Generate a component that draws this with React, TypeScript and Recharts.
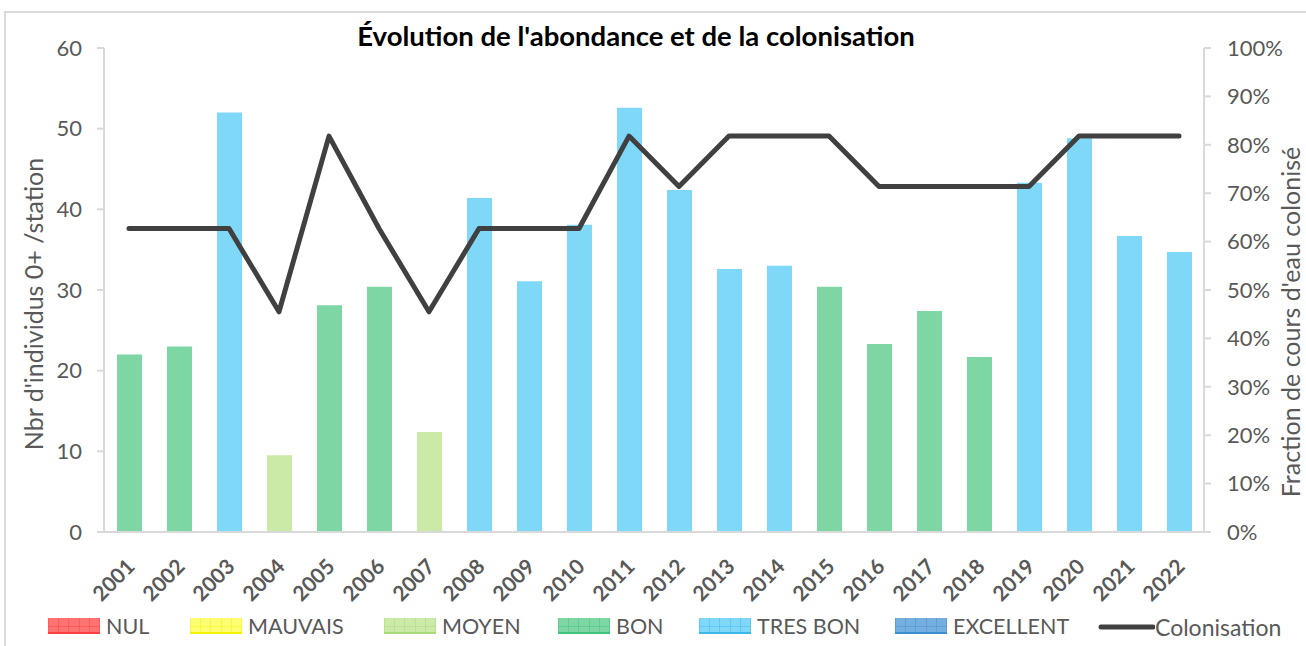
import { ComposedChart, Bar, Line, XAxis, YAxis, Rectangle } from 'recharts';

// values
const years = [
  '2001', '2002', '2003', '2004', '2005', '2006', '2007', '2008', '2009', '2010', '2011',
  '2012', '2013', '2014', '2015', '2016', '2017', '2018', '2019', '2020', '2021', '2022',
];
const abondance = [
  22.0, 23.0, 52.0, 9.5, 28.1, 30.4, 12.4, 41.4, 31.1, 38.1, 52.6,
  42.4, 32.6, 33.0, 30.4, 23.3, 27.4, 21.7, 43.3, 48.8, 36.7, 34.7,
];
const classe = [
  'BON', 'BON', 'TRES BON', 'MOYEN', 'BON', 'BON', 'MOYEN', 'TRES BON', 'TRES BON', 'TRES BON', 'TRES BON',
  'TRES BON', 'TRES BON', 'TRES BON', 'BON', 'BON', 'BON', 'BON', 'TRES BON', 'TRES BON', 'TRES BON', 'TRES BON',
];
const colonisation = [
  0.627, 0.627, 0.627, 0.455, 0.818, 0.627, 0.455, 0.627, 0.627, 0.627, 0.818,
  0.714, 0.818, 0.818, 0.818, 0.714, 0.714, 0.714, 0.714, 0.818, 0.818, 0.818,
];
const leftTicks = [0, 10, 20, 30, 40, 50, 60];
const rightTicks = [0, 0.1, 0.2, 0.3, 0.4, 0.5, 0.6, 0.7, 0.8, 0.9, 1];

const classes = ['NUL', 'MAUVAIS', 'MOYEN', 'BON', 'TRES BON', 'EXCELLENT'];
const classFill = ['#ff7373', '#ffff73', '#cbe9a7', '#7ed6a5', '#80d8f8', '#74afe0'];
const classLine = ['#ff4040', '#f2f200', '#a9d97a', '#40c47c', '#3db6ea', '#3d8ed0'];

const data = years.map((year, i) => ({
  year,
  abondance: abondance[i],
  classe: classe[i],
  colonisation: colonisation[i],
}));

const FONT = 'Lato, "Open Sans", sans-serif';
const GREY = '#595959';
const AXIS = '#d9d9d9';
// left edge of each legend entry (6 classes + colonisation line)
const legendLeft = [48, 190, 384, 558, 699, 895, 1098];

function YearTick(props: any) {
  const { x, y, payload } = props;
  const ax = x + 7;
  const ay = y + 28;
  return (
    <text
      x={ax}
      y={ay}
      transform={`rotate(-45, ${ax}, ${ay})`}
      textAnchor="end"
      fontFamily={FONT}
      fontWeight={700}
      fontSize={21}
      fill={GREY}
    >
      {payload.value}
    </text>
  );
}

function ClassBar(props: any) {
  const cls = props.payload ? props.payload.classe : props.classe;
  const fill = classFill[classes.indexOf(cls)] || classFill[4];
  return <Rectangle x={props.x} y={props.y} width={props.width} height={props.height} fill={fill} />;
}

function Swatch({ i }: { i: number }) {
  return (
    <svg width={52} height={16} style={{ display: 'block' }}>
      <rect x={0} y={0} width={52} height={16} fill={classFill[i]} />
      {[0, 10, 20, 31, 41, 51].map((lx) => (
        <line key={lx} x1={lx + 0.5} x2={lx + 0.5} y1={0} y2={16} stroke={classLine[i]} strokeOpacity={0.45} />
      ))}
      <line x1={0} x2={52} y1={8.5} y2={8.5} stroke={classLine[i]} strokeOpacity={0.45} />
      <line x1={0} x2={52} y1={15} y2={15} stroke={classLine[i]} strokeWidth={2} />
    </svg>
  );
}

function ChartLegend() {
  const item = (left: number): React.CSSProperties => ({
    position: 'absolute',
    left,
    top: 613,
    display: 'flex',
    alignItems: 'center',
    whiteSpace: 'nowrap',
    fontFamily: FONT,
    fontSize: 21.5,
    color: GREY,
  });
  return (
    <>
      {classes.map((c, i) => (
        <div key={c} style={{ ...item(legendLeft[i]), gap: 6 }}>
          <Swatch i={i} />
          <span>{c}</span>
        </div>
      ))}
      <div style={item(legendLeft[6])}>
        <svg width={57} height={16} style={{ display: 'block' }}>
          <line x1={3} x2={55} y1={8} y2={8} stroke="#404040" strokeWidth={5} strokeLinecap="round" />
        </svg>
        <span style={{ fontSize: 23 }}>Colonisation</span>
      </div>
    </>
  );
}

export default function App() {
  return (
    <div
      style={{
        position: 'absolute',
        left: 0,
        top: 0,
        width: 1306,
        height: 646,
        overflow: 'hidden',
        background: '#fff',
      }}
    >
      <div
        style={{
          position: 'absolute',
          left: 4,
          top: 11,
          width: 1320,
          height: 660,
          borderLeft: `2px solid ${AXIS}`,
          borderTop: `2px solid ${AXIS}`,
        }}
      />
      <div
        style={{
          position: 'absolute',
          left: 0,
          top: 19,
          width: 1272,
          textAlign: 'center',
          fontFamily: FONT,
          fontWeight: 700,
          fontSize: 27.5,
          lineHeight: '34px',
          color: '#000',
        }}
      >
        Évolution de l'abondance et de la colonisation
      </div>
      <div style={{ position: 'absolute', left: 0, top: 0 }}>
        <ComposedChart
          width={1306}
          height={646}
          data={data}
          margin={{ top: 48, right: 4, bottom: 44, left: 4 }}
        >
          <XAxis
            dataKey="year"
            interval={0}
            height={70}
            tickLine={false}
            axisLine={{ stroke: AXIS, strokeWidth: 2 }}
            tick={<YearTick />}
          />
          <YAxis
            yAxisId="left"
            width={100}
            domain={[0, 60]}
            ticks={leftTicks}
            tickSize={7}
            tickMargin={15}
            axisLine={{ stroke: AXIS, strokeWidth: 2 }}
            tickLine={{ stroke: AXIS, strokeWidth: 2 }}
            tick={{ fill: GREY, fontSize: 22, fontFamily: FONT }}
            label={() => (
              <text
                transform="translate(33, 304) rotate(-90)"
                textAnchor="middle"
                dominantBaseline="central"
                fontFamily={FONT}
                fontSize={25}
                fill={GREY}
              >
                Nbr d'individus 0+ /station
              </text>
            )}
          />
          <YAxis
            yAxisId="right"
            orientation="right"
            width={98}
            domain={[0, 1]}
            ticks={rightTicks}
            tickFormatter={(v: number) => `${Math.round(v * 100)}%`}
            tickSize={7}
            tickMargin={16}
            axisLine={{ stroke: AXIS, strokeWidth: 2 }}
            tickLine={{ stroke: AXIS, strokeWidth: 2 }}
            tick={{ fill: GREY, fontSize: 22, fontFamily: FONT }}
            label={() => (
              <text
                transform="translate(1290, 322) rotate(-90)"
                textAnchor="middle"
                dominantBaseline="central"
                fontFamily={FONT}
                fontSize={25}
                fill={GREY}
              >
                Fraction de cours d'eau colonisé
              </text>
            )}
          />
          <Bar
            yAxisId="left"
            dataKey="abondance"
            barSize={25}
            fill={classFill[4]}
            shape={ClassBar}
            isAnimationActive={false}
          />
          <Line
            yAxisId="right"
            type="linear"
            dataKey="colonisation"
            stroke="#404040"
            strokeWidth={5}
            strokeLinecap="round"
            strokeLinejoin="round"
            dot={false}
            activeDot={false}
            isAnimationActive={false}
          />
        </ComposedChart>
      </div>
      <ChartLegend />
    </div>
  );
}
